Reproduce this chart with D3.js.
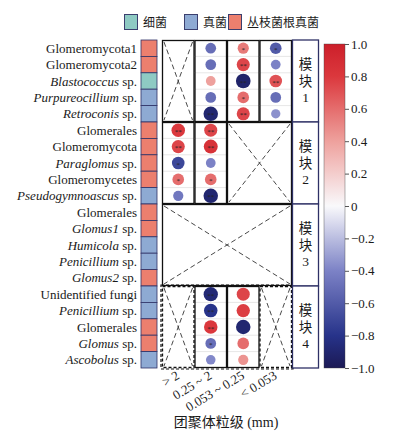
<!DOCTYPE html>
<html>
<head>
<meta charset="utf-8">
<script src="https://cdn.jsdelivr.net/npm/d3@7"></script>
<style>
  body { margin: 0; background: #fff; }
  svg { display: block; }
  svg text { font-family: "Liberation Serif", "Times New Roman", "DejaVu Serif", serif; fill: #1a1a1a; }
  svg text.cjk { font-family: "Liberation Serif", "Noto Sans CJK SC", serif; }
</style>
</head>
<body>
<svg id="chart" width="396" height="437"></svg>
<script>
// --- data ---
const sizes = ["> 2", "0.25 ~ 2", "0.053 ~ 0.25", "< 0.053"];
const taxa = ["Glomeromycota1", "Glomeromycota2", "Blastococcus", "Purpureocillium", "Retroconis",
  "Glomerales", "Glomeromycota", "Paraglomus", "Glomeromycetes", "Pseudogymnoascus",
  "Glomerales", "Glomus1", "Humicola", "Penicillium", "Glomus2",
  "Unidentified fungi", "Penicillium", "Glomerales", "Glomus", "Ascobolus"];
const italic = [false, false, true, true, true, false, false, true, false, true,
  false, true, true, true, true, false, true, false, true, true];
const groups = ["amf", "amf", "bac", "fun", "fun", "amf", "amf", "amf", "amf", "fun",
  "amf", "amf", "fun", "fun", "amf", "fun", "fun", "amf", "amf", "fun"];
const groupNames = ["细菌", "真菌", "丛枝菌根真菌"];
const modules = ["1", "2", "3", "4"];
const rValues = [
  [null, -0.5, 0.55, -0.6],
  [null, -0.5, 0.75, -0.4],
  [null, 0.4, -0.92, 0.7],
  [null, -0.5, 0.6, -0.5],
  [null, -0.9, 0.75, -0.35],
  [0.8, 0.75, null, null],
  [0.75, 0.85, null, null],
  [-0.7, -0.4, null, null],
  [0.6, 0.6, null, null],
  [-0.45, -0.9, null, null],
  [null, null, null, null],
  [null, null, null, null],
  [null, null, null, null],
  [null, null, null, null],
  [null, null, null, null],
  [null, -0.88, 0.75, null],
  [null, -0.8, 0.78, null],
  [null, 0.8, -0.9, null],
  [null, -0.5, 0.6, null],
  [null, -0.38, 0.45, null]
];
const sig = [
  ["", "", "*", "*"],
  ["", "", "**", ""],
  ["", "", "**", "**"],
  ["", "", "*", ""],
  ["", "**", "**", ""],
  ["**", "**", "", ""],
  ["**", "**", "", ""],
  ["*", "", "", ""],
  ["*", "*", "", ""],
  ["", "**", "", ""],
  ["", "", "", ""], ["", "", "", ""], ["", "", "", ""], ["", "", "", ""], ["", "", "", ""],
  ["**", "**", "", ""],
  ["*", "**", "", ""],
  ["**", "**", "", ""],
  ["", "*", "", ""],
  ["", "", "", ""]
];
const cbTicks = [1, 0.8, 0.6, 0.4, 0.2, 0, -0.2, -0.4, -0.6, -0.8, -1];

// boxes per module: [fromCol, toCol, crossed, dashed]
const boxes = [
  [[0, 1, true, false], [1, 2, false, false], [2, 3, false, false], [3, 4, false, false]],
  [[0, 1, false, false], [1, 2, false, false], [2, 4, true, false]],
  [[0, 4, true, false]],
  [[0, 1, true, true], [1, 2, false, false], [2, 3, false, false], [3, 4, true, true]]
];

const svg = d3.select("#chart");
const groupColor = d3.scaleOrdinal().domain(["bac", "fun", "amf"]).range(["#8ecac3", "#8eaad3", "#ec7f6e"]);
const color = d3.scaleLinear()
  .domain([-1, -0.8, -0.4, 0, 0.4, 0.8, 1])
  .range(["#1c1a55", "#27338a", "#7c82c6", "#f9f9fb", "#eea19d", "#db383d", "#cc1f2a"]);

const y = d3.scaleBand().domain(d3.range(taxa.length)).range([40, 368]);
const x = d3.scaleBand().domain(d3.range(sizes.length)).range([162, 292]);
const rad = v => 3 + 4.7 * Math.abs(v);

// legend
const leg = svg.append("g");
const legX = [124, 184, 228];
groupNames.forEach((n, i) => {
  leg.append("rect").attr("x", legX[i] + 0.5).attr("y", 14.5).attr("width", 13).attr("height", 15)
    .attr("fill", groupColor.range()[i]).attr("stroke", "#3b3f6e").attr("stroke-width", 1);
  leg.append("text").attr("class", "cjk").attr("x", legX[i] + 19).attr("y", 27).attr("font-size", 12).text(n);
});

// row labels
const lab = svg.append("g");
taxa.forEach((t, i) => {
  const tx = lab.append("text").attr("x", 137).attr("y", y(i) + y.bandwidth() / 2 + 4.5)
    .attr("text-anchor", "end").attr("font-size", 13);
  if (italic[i]) {
    tx.append("tspan").attr("font-style", "italic").text(t);
    tx.append("tspan").text(" sp.");
  } else tx.text(t);
});

// group strip
svg.append("g").selectAll("rect").data(groups).join("rect")
  .attr("x", 141).attr("y", (d, i) => y(i)).attr("width", 16).attr("height", y.bandwidth())
  .attr("fill", d => groupColor(d)).attr("stroke", "#2e3166").attr("stroke-width", 0.8);

// module boxes
const grid = svg.append("g");
modules.forEach((m, mi) => {
  const r0 = mi * 5, top = y(r0), bot = y(r0 + 4) + y.bandwidth();
  boxes[mi].forEach(b => {
    const x0 = x(b[0]), x1 = x(b[1] - 1) + x.bandwidth();
    if (!b[2]) {
      // faint row lines
      for (let r = r0 + 1; r < r0 + 5; r++) {
        grid.append("line").attr("x1", x0).attr("x2", x1).attr("y1", y(r)).attr("y2", y(r))
          .attr("stroke", "#dcdcdc").attr("stroke-width", 0.7);
      }
    } else {
      const p = 2;
      grid.append("line").attr("x1", x0 + p).attr("y1", top + p).attr("x2", x1 - p).attr("y2", bot - p)
        .attr("stroke", "#333").attr("stroke-width", 0.9).attr("stroke-dasharray", "5,3");
      grid.append("line").attr("x1", x1 - p).attr("y1", top + p).attr("x2", x0 + p).attr("y2", bot - p)
        .attr("stroke", "#333").attr("stroke-width", 0.9).attr("stroke-dasharray", "5,3");
    }
    grid.append("rect").attr("x", x0 + 0.5).attr("y", top + 0.5).attr("width", x1 - x0 - 1).attr("height", bot - top - 1)
      .attr("fill", "none").attr("stroke", "#111").attr("stroke-width", 1.3)
      .attr("stroke-dasharray", b[3] ? "3,2" : null);
  });
  if (mi === 3) {
    grid.append("rect").attr("x", x(0) - 1).attr("y", top - 1).attr("width", x.range()[1] - x(0) + 2).attr("height", bot - top + 2)
      .attr("fill", "none").attr("stroke", "#111").attr("stroke-width", 1.2).attr("stroke-dasharray", "3,2");
  }
  // module label box
  svg.append("rect").attr("x", 292.5).attr("y", top).attr("width", 26).attr("height", bot - top)
    .attr("fill", "#fff").attr("stroke", "#2e3166").attr("stroke-width", 1.3);
  const cy = (top + bot) / 2;
  ["模", "块", m].forEach((c, k) => {
    svg.append("text").attr("class", "cjk").attr("x", 305.5).attr("y", cy - 12 + k * 16.5).attr("text-anchor", "middle")
      .attr("font-size", 13.5).text(c);
  });
});

// circles
const cells = [];
rValues.forEach((row, i) => row.forEach((v, j) => { if (v !== null) cells.push({ i, j, v, s: sig[i][j] }); }));
const cg = svg.append("g").selectAll("g").data(cells).join("g")
  .attr("transform", d => `translate(${x(d.j) + x.bandwidth() / 2},${y(d.i) + y.bandwidth() / 2})`);
cg.append("circle").attr("r", d => rad(d.v)).attr("fill", d => color(d.v));
cg.append("text").attr("text-anchor", "middle").attr("y", 3.5).attr("font-size", 7)
  .style("fill", "#222").text(d => d.s);

// x axis labels
svg.append("g").selectAll("text").data(sizes).join("text")
  .attr("transform", (d, i) => `translate(${x(i) + x.bandwidth() / 2 + 2},378) rotate(-31)`)
  .attr("text-anchor", "end").attr("font-size", 13).text(d => d);
svg.append("text").attr("class", "cjk").attr("x", 226).attr("y", 427).attr("text-anchor", "middle").attr("font-size", 14)
  .text("团聚体粒级 (mm)");

// colorbar
const cb = d3.scaleLinear().domain([1, -1]).range([44, 368]);
const defs = svg.append("defs");
const grad = defs.append("linearGradient").attr("id", "cbg").attr("x1", 0).attr("x2", 0).attr("y1", 0).attr("y2", 1);
d3.range(0, 1.0001, 0.05).forEach(t => {
  grad.append("stop").attr("offset", t).attr("stop-color", color(1 - 2 * t));
});
svg.append("rect").attr("x", 324).attr("y", cb(1)).attr("width", 21).attr("height", cb(-1) - cb(1))
  .attr("fill", "url(#cbg)").attr("stroke", "#444").attr("stroke-width", 0.4);
const cbAxis = d3.axisRight(cb).tickValues(cbTicks).tickSize(4).tickPadding(2)
  .tickFormat(v => v === 0 ? "0" : d3.format(".1f")(v).replace("-", "−"));
const ax = svg.append("g").attr("transform", "translate(345,0)").call(cbAxis);
ax.select(".domain").remove();
ax.selectAll("line").attr("stroke", "#555");
ax.selectAll("text").attr("font-size", 13).attr("font-family", null).style("fill", "#1a1a1a");
</script>
</body>
</html>
